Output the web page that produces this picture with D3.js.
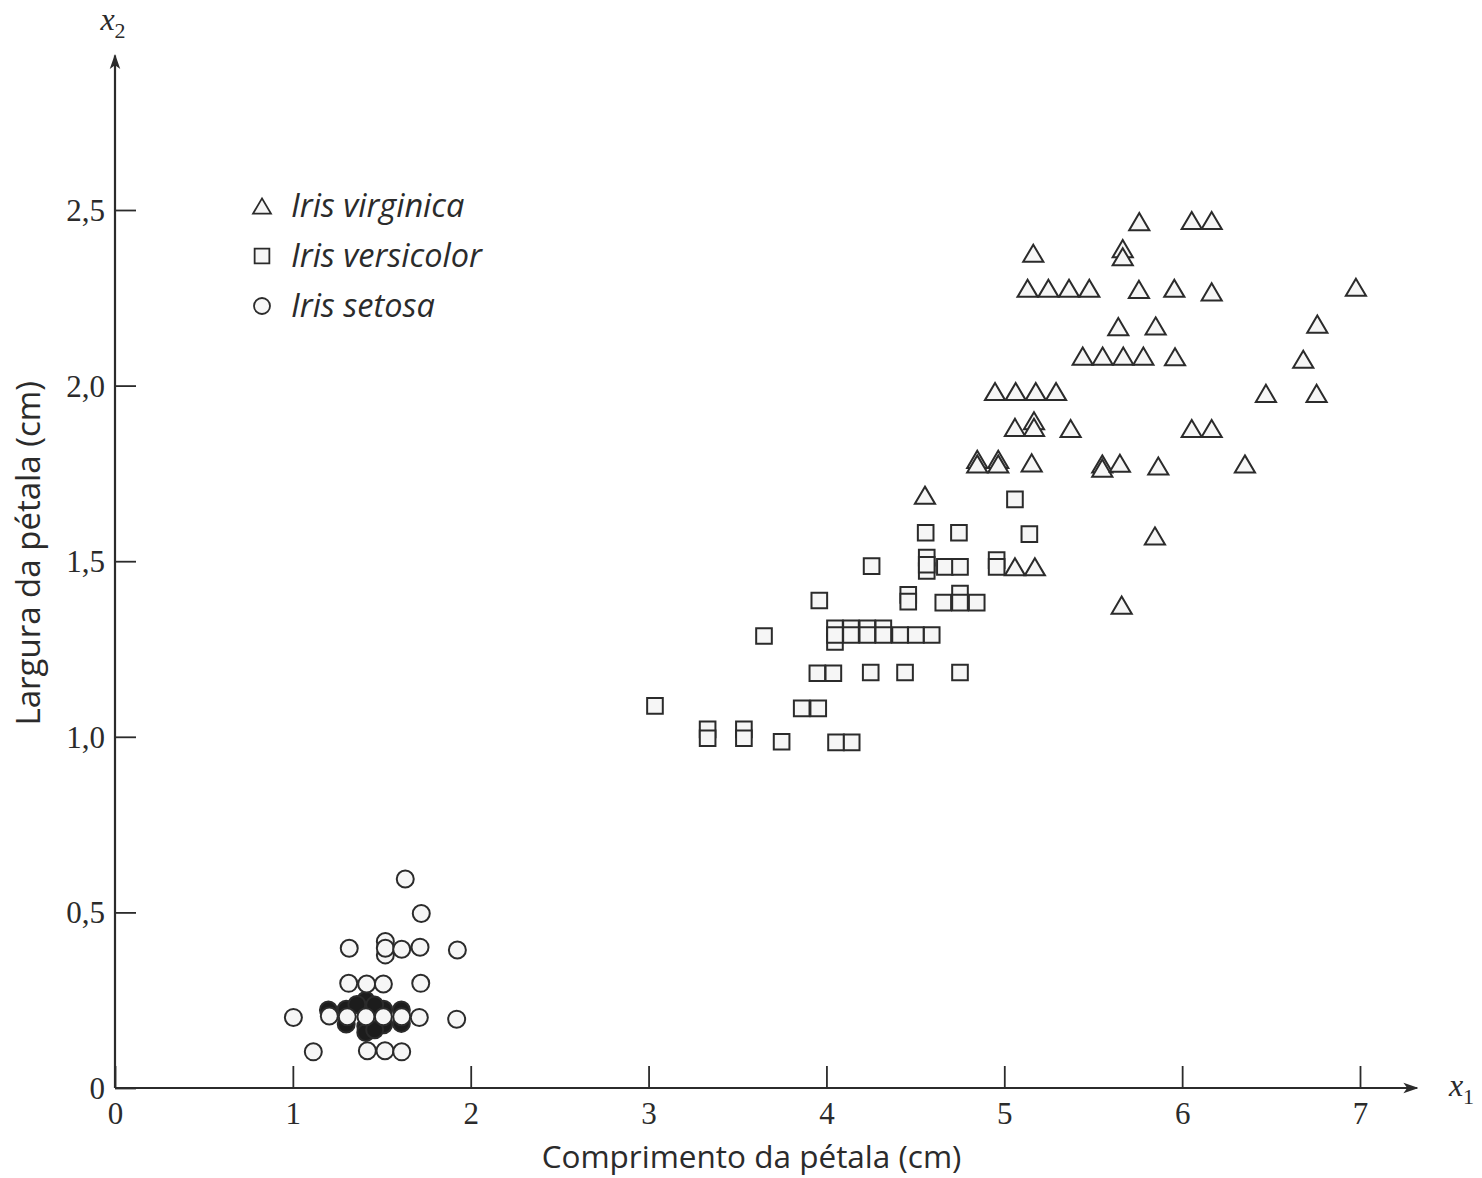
<!DOCTYPE html>
<html>
<head>
<meta charset="utf-8">
<script src="https://cdn.jsdelivr.net/npm/d3@7"></script>
<style>
  body { margin: 0; background: #fff; }
  svg { display: block; }
</style>
</head>
<body>
<div id="chart"></div>
<script>
// petal length (x1) / petal width (x2)
// setosa points stacked behind the crowded 0,2 row (they print as a dark blob)
var setosaHidden = [
  [1.20, 0.222], [1.30, 0.224], [1.41, 0.228], [1.51, 0.224], [1.61, 0.222],
  [1.41, 0.250], [1.30, 0.182], [1.41, 0.176], [1.51, 0.180], [1.61, 0.184],
  [1.41, 0.158], [1.46, 0.166], [1.36, 0.238], [1.46, 0.236]
];
var setosa = [
  [1.632, 0.595], [1.722, 0.497], [1.317, 0.398],
  [1.520, 0.417], [1.520, 0.379], [1.520, 0.398],
  [1.612, 0.395], [1.715, 0.401], [1.925, 0.393],
  [1.314, 0.298], [1.415, 0.296], [1.509, 0.296], [1.719, 0.298],
  [1.003, 0.201], [1.205, 0.205], [1.306, 0.203], [1.411, 0.203],
  [1.509, 0.203], [1.612, 0.203], [1.711, 0.201], [1.921, 0.196],
  [1.115, 0.103], [1.419, 0.106], [1.518, 0.106], [1.612, 0.103]
];

var versicolor = [
  [3.036, 1.088], [3.332, 1.021], [3.332, 0.996], [3.536, 1.021], [3.536, 0.996],
  [3.748, 0.986], [4.054, 0.984], [4.142, 0.984], [3.861, 1.081], [3.954, 1.081],
  [3.949, 1.181], [4.039, 1.181], [4.249, 1.183], [4.442, 1.183], [4.751, 1.183],
  [3.649, 1.287],
  [4.048, 1.309], [4.138, 1.309], [4.230, 1.309], [4.320, 1.309],
  [4.048, 1.270], [4.048, 1.290], [4.138, 1.290], [4.230, 1.290], [4.320, 1.290],
  [4.414, 1.290], [4.503, 1.290], [4.592, 1.290],
  [3.960, 1.388], [4.460, 1.404], [4.460, 1.385], [4.657, 1.382],
  [4.751, 1.408], [4.751, 1.382], [4.845, 1.382],
  [4.254, 1.486], [4.564, 1.510], [4.564, 1.472], [4.564, 1.490],
  [4.666, 1.484], [4.751, 1.484], [4.957, 1.503], [4.957, 1.484],
  [4.558, 1.581], [4.745, 1.581], [5.141, 1.577], [5.060, 1.676]
];

var virginica = [
  [5.759, 2.467], [6.054, 2.470], [6.166, 2.470],
  [5.163, 2.377], [5.666, 2.390], [5.666, 2.367],
  [5.131, 2.277], [5.248, 2.277], [5.364, 2.277], [5.478, 2.277],
  [5.757, 2.274], [5.956, 2.277], [6.166, 2.267], [6.977, 2.280],
  [5.641, 2.168], [5.851, 2.170], [6.760, 2.175],
  [5.441, 2.084], [5.553, 2.084], [5.669, 2.084], [5.782, 2.084],
  [5.960, 2.082], [6.681, 2.075],
  [4.948, 1.983], [5.064, 1.983], [5.177, 1.983], [5.291, 1.983],
  [6.471, 1.978], [6.756, 1.978],
  [5.060, 1.881], [5.167, 1.900], [5.167, 1.881], [5.373, 1.878],
  [6.054, 1.878], [6.166, 1.878],
  [4.848, 1.790], [4.848, 1.777], [4.966, 1.790], [4.966, 1.777],
  [5.154, 1.780], [5.551, 1.777], [5.551, 1.765], [5.650, 1.779],
  [5.866, 1.771], [6.353, 1.777],
  [5.847, 1.572], [5.060, 1.484], [5.172, 1.484], [5.660, 1.375],
  [4.554, 1.688]
];

var xTicks = [0, 1, 2, 3, 4, 5, 6, 7];
var yTicks = [0, 0.5, 1.0, 1.5, 2.0, 2.5];
var legendLabels = ["Iris virginica", "Iris versicolor", "Iris setosa"];
var legendShapes = ["triangle", "square", "circle"];
var xTitle = "Comprimento da pétala (cm)";
var yTitle = "Largura da pétala (cm)";

var W = 1482, H = 1178;
var ink = "#2b2b2b";
var sans = "'Open Sans', Lato, sans-serif";
var serif = "'Liberation Serif', 'DejaVu Serif', serif";

var x = d3.scaleLinear().domain([0, 7]).range([115, 1360]);
var y = d3.scaleLinear().domain([0, 2.5]).range([1088, 210]);

var comma = d3.formatLocale({decimal: ",", thousands: ".", grouping: [3], currency: ["", ""]}).format(".1f");
function yFmt(d) { return d === 0 ? "0" : comma(d); }

var svg = d3.select("#chart").append("svg")
    .attr("width", W)
    .attr("height", H);

svg.append("defs").append("marker")
    .attr("id", "arrow")
    .attr("viewBox", "0 0 10 10")
    .attr("refX", 9).attr("refY", 5)
    .attr("markerWidth", 15).attr("markerHeight", 15)
    .attr("markerUnits", "userSpaceOnUse")
    .attr("orient", "auto")
  .append("path")
    .attr("d", "M0,1.5 L10,5 L0,8.5 L2.5,5 Z")
    .attr("fill", ink);

// marker shapes
function shapePath(type, s) {
  if (type === "triangle") {
    var w = s * 1.12, h = s * 0.95;
    return "M0," + (-h / 2) + "L" + (w / 2) + "," + (h / 2) + "L" + (-w / 2) + "," + (h / 2) + "Z";
  }
  if (type === "square") {
    var a = s * 0.92 / 2;
    return "M" + (-a) + "," + (-a) + "H" + a + "V" + a + "H" + (-a) + "Z";
  }
  var r = s / 2;
  return "M" + r + ",0A" + r + "," + r + " 0 1,1 " + (-r) + ",0A" + r + "," + r + " 0 1,1 " + r + ",0Z";
}

// axes lines with arrowheads
var xArrowEnd = 7.32, yArrowEnd = 2.94;
svg.append("line")
    .attr("x1", x(0)).attr("y1", y(0))
    .attr("x2", x(xArrowEnd)).attr("y2", y(0))
    .attr("stroke", ink).attr("stroke-width", 2.2)
    .attr("marker-end", "url(#arrow)");
svg.append("line")
    .attr("x1", x(0)).attr("y1", y(0))
    .attr("x2", x(0)).attr("y2", y(yArrowEnd))
    .attr("stroke", ink).attr("stroke-width", 2.2)
    .attr("marker-end", "url(#arrow)");

var xAxis = d3.axisBottom(x).tickValues(xTicks).tickFormat(d3.format("d"))
    .tickSizeInner(-22).tickSizeOuter(0).tickPadding(10);
var gx = svg.append("g").attr("transform", "translate(0," + y(0) + ")").call(xAxis);

var yAxis = d3.axisLeft(y).tickValues(yTicks).tickFormat(yFmt)
    .tickSizeInner(-21).tickSizeOuter(0).tickPadding(10);
var gy = svg.append("g").attr("transform", "translate(" + x(0) + ",0)").call(yAxis);

[gx, gy].forEach(function(g) {
  g.select(".domain").remove();
  g.selectAll(".tick line").attr("stroke", ink).attr("stroke-width", 1.8);
  g.selectAll(".tick text")
    .attr("fill", ink)
    .style("font-family", serif)
    .style("font-size", "31px");
});
gx.selectAll(".tick text").attr("dy", "0.85em");
gy.selectAll(".tick text").attr("dy", "0.34em");

// axis names
svg.append("text")
    .attr("x", x(0) - 2).attr("y", y(yArrowEnd) - 25)
    .attr("text-anchor", "middle")
    .attr("fill", ink)
    .style("font-family", serif)
    .style("font-size", "32px")
    .html("<tspan font-style='italic'>x</tspan><tspan dy='8' font-size='22'>2</tspan>");
svg.append("text")
    .attr("x", x(xArrowEnd) + 32).attr("y", y(0) + 8)
    .attr("text-anchor", "start")
    .attr("fill", ink)
    .style("font-family", serif)
    .style("font-size", "32px")
    .html("<tspan font-style='italic'>x</tspan><tspan dy='8' font-size='22'>1</tspan>");

svg.append("text")
    .attr("x", (x(0) + x(7)) / 2 + 14).attr("y", 1168)
    .attr("text-anchor", "middle")
    .attr("fill", ink)
    .style("font-family", sans)
    .style("font-size", "31.5px")
    .text(xTitle);
svg.append("text")
    .attr("transform", "translate(40," + (y(1.5) - 8) + ") rotate(-90)")
    .attr("text-anchor", "middle")
    .attr("fill", ink)
    .style("font-family", sans)
    .style("font-size", "33px")
    .text(yTitle);

// points
function drawSeries(data, type, size, fill) {
  svg.append("g").selectAll("path")
    .data(data)
    .enter().append("path")
    .attr("transform", function(d) { return "translate(" + x(d[0]) + "," + y(d[1]) + ")"; })
    .attr("d", shapePath(type, size))
    .attr("fill", fill)
    .attr("stroke", ink)
    .attr("stroke-width", 2);
}
drawSeries(setosaHidden, "circle", 17, "#1c1c1c");
drawSeries(setosa, "circle", 17, "#f6f6f6");
drawSeries(versicolor, "square", 17, "#f6f6f6");
drawSeries(virginica, "triangle", 18, "#f6f6f6");

// legend
var legend = svg.append("g");
var legY = d3.scaleLinear().domain([0, 2]).range([206, 306]);
legendLabels.forEach(function(lab, i) {
  legend.append("path")
    .attr("transform", "translate(262," + legY(i) + ")")
    .attr("d", shapePath(legendShapes[i], 16))
    .attr("fill", "#f6f6f6")
    .attr("stroke", ink)
    .attr("stroke-width", 1.8);
  legend.append("text")
    .attr("x", 291).attr("y", legY(i))
    .attr("dy", "0.35em")
    .attr("fill", ink)
    .style("font-family", sans)
    .style("font-style", "italic")
    .style("font-size", "32.5px")
    .text(lab);
});
</script>
</body>
</html>
